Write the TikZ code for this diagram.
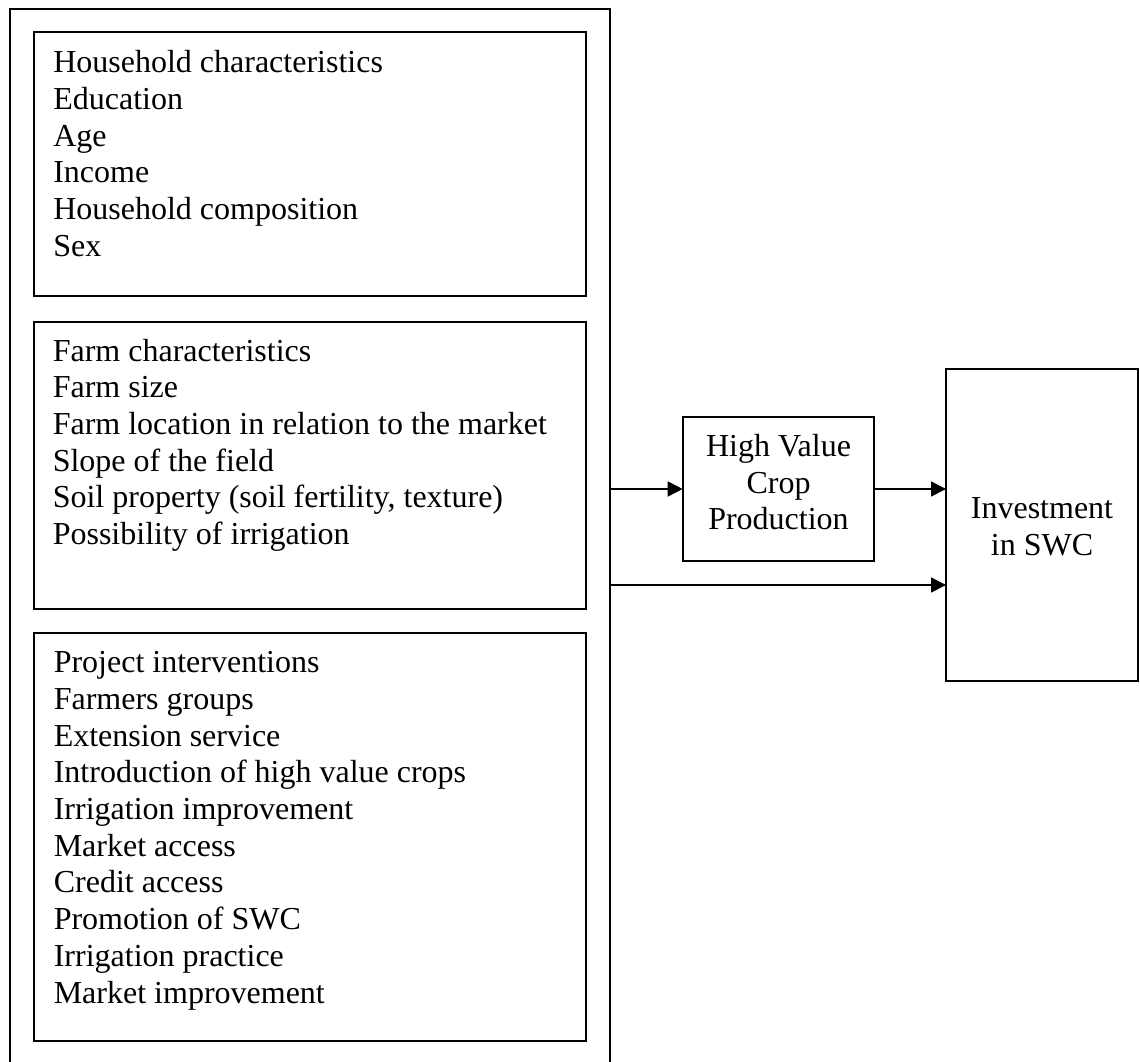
\documentclass[tikz,border=0pt]{standalone}
\usepackage{fontspec}
\setmainfont{Liberation Serif}
\usetikzlibrary{arrows.meta}
\tikzset{
  frame/.style={draw=black, line width=2pt, inner sep=0pt, outer sep=0pt, anchor=north west},
  arr/.style={draw=black, line width=1.6pt, -{Triangle[length=15pt,width=15pt]}},
  txt/.style={inner sep=0pt, outer sep=0pt, anchor=base west},
  ctxt/.style={inner sep=0pt, outer sep=0pt, anchor=base}
}
\newcommand{\bigfont}{\fontsize{32}{36.7}\selectfont}
\begin{document}
\begin{tikzpicture}[x=1pt,y=-1pt]
\useasboundingbox (0,0) rectangle (1140,1062);
\fill[white] (0,0) rectangle (1140,1062);
\clip (0,0) rectangle (1140,1062);
% boxes
\node[frame, minimum width=600pt, minimum height=1100pt] (outer) at (10,9.5) {};
\node[frame, minimum width=552pt, minimum height=264pt] (b1) at (34,32) {};
\node[frame, minimum width=552pt, minimum height=287.5pt] (b2) at (34,321.5) {};
\node[frame, minimum width=552pt, minimum height=408.5pt] (b3) at (34,632.5) {};
\node[frame, minimum width=191.6pt, minimum height=144pt] (hvc) at (682.7,416.7) {};
\node[frame, minimum width=192pt, minimum height=312pt] (inv) at (946,369) {};
% texts
\node[txt] (t1) at (53.3,72.7) {\parbox[t]{530pt}{\raggedright\bigfont Household characteristics\\Education\\Age\\Income\\Household composition\\Sex}};
\node[txt] (t2) at (52.8,361) {\parbox[t]{530pt}{\raggedright\bigfont Farm characteristics\\Farm size\\Farm location in relation to the market\\Slope of the field\\Soil property (soil fertility, texture)\\Possibility of irrigation}};
\node[txt] (t3) at (53.8,672.7) {\parbox[t]{530pt}{\raggedright\bigfont Project interventions\\Farmers groups\\Extension service\\Introduction of high value crops\\Irrigation improvement\\Market access\\Credit access\\Promotion of SWC\\Irrigation practice\\Market improvement}};
\node[ctxt] (thvc) at (778.5,456.5) {\parbox[t]{190pt}{\centering\bigfont High Value\\Crop\\Production}};
\node[ctxt] (tinv) at (1042,518.5) {\parbox[t]{190pt}{\centering\bigfont Investment\\in SWC}};
% connectors
\coordinate (o1) at (610.3,489);
\coordinate (o2) at (610.3,585);
\draw[arr] (o1) -- (o1 -| hvc.west);
\draw[arr] (hvc.east |- o1) -- (o1 -| inv.west);
\draw[arr] (o2) -- (o2 -| inv.west);
\end{tikzpicture}
\end{document}
